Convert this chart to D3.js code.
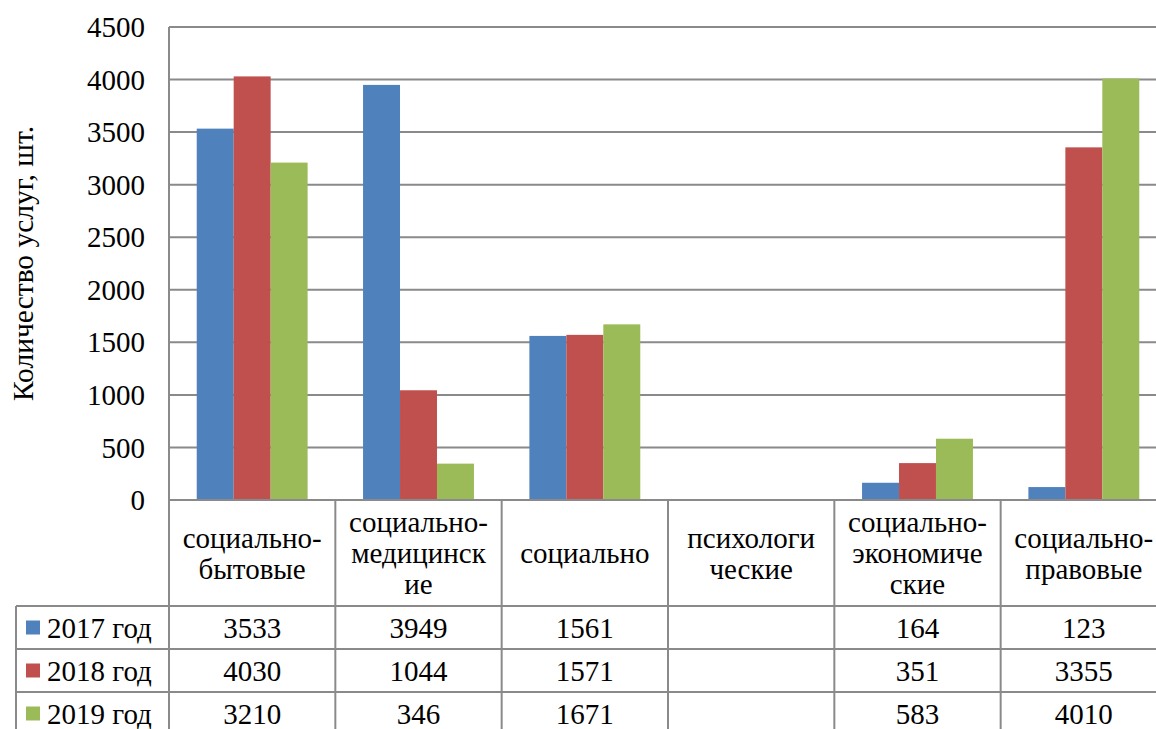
<!DOCTYPE html>
<html>
<head>
<meta charset="utf-8">
<script src="https://cdn.jsdelivr.net/npm/d3@7"></script>
<style>
  html, body { margin: 0; padding: 0; background: #fff; }
  svg { display: block; }
</style>
</head>
<body>
<svg id="chart" width="1156" height="729"></svg>
<script>
// ---- data ----
const categories = [
  ["социально-", "бытовые"],
  ["социально-", "медицинск", "ие"],
  ["социально"],
  ["психологи", "ческие"],
  ["социально-", "экономиче", "ские"],
  ["социально-", "правовые"]
];
const seriesNames = ["2017 год", "2018 год", "2019 год"];
const values2017 = [3533, 3949, 1561, null, 164, 123];
const values2018 = [4030, 1044, 1571, null, 351, 3355];
const values2019 = [3210, 346, 1671, null, 583, 4010];
const yTicks = [0, 500, 1000, 1500, 2000, 2500, 3000, 3500, 4000, 4500];
const yTitle = "Количество услуг, шт.";

const seriesValues = [values2017, values2018, values2019];
const colors = ["#4F81BD", "#C0504D", "#9BBB59"];

// ---- layout ----
const svg = d3.select("#chart");
const plotLeft = 169, plotRight = 1167, plotTop = 27, plotBottom = 500;
const headerBottom = 606, rowH = 43;
const legendLeft = 16;
const gridColor = "#8a8a8a";
const serif = "'Liberation Serif', 'Times New Roman', serif";
const fs = 29;

const x = d3.scaleBand().domain(d3.range(categories.length)).range([plotLeft, plotRight]).paddingInner(0).paddingOuter(0);
const xs = d3.scaleBand().domain(d3.range(seriesNames.length)).range([0, x.bandwidth()]).paddingInner(0).paddingOuter(0.75);
const y = d3.scaleLinear().domain([0, 4500]).range([plotBottom, plotTop]);

// gridlines
svg.append("g").selectAll("line").data(yTicks.filter(d => d > 0)).join("line")
  .attr("x1", plotLeft).attr("x2", plotRight)
  .attr("y1", d => y(d)).attr("y2", d => y(d))
  .attr("stroke", gridColor).attr("stroke-width", 2);

// bars
const groups = svg.append("g").selectAll("g").data(seriesValues).join("g")
  .attr("fill", (d, i) => colors[i]);
groups.each(function(vals, si) {
  d3.select(this).selectAll("rect").data(vals.map((v, ci) => ({v, ci})).filter(d => d.v != null)).join("rect")
    .attr("x", d => x(d.ci) + xs(si))
    .attr("width", xs.bandwidth())
    .attr("y", d => y(d.v))
    .attr("height", d => y(0) - y(d.v));
});

// y axis line
svg.append("line").attr("x1", plotLeft).attr("x2", plotLeft).attr("y1", plotTop).attr("y2", plotBottom)
  .attr("stroke", gridColor).attr("stroke-width", 2);

// y tick labels
svg.append("g").selectAll("text").data(yTicks).join("text")
  .attr("x", 145).attr("y", d => y(d)).attr("dy", "0.35em")
  .attr("text-anchor", "end")
  .attr("font-family", serif).attr("font-size", fs).attr("fill", "#000")
  .text(d => d);

// y title
svg.append("text")
  .attr("transform", `translate(33, ${(plotTop + plotBottom) / 2}) rotate(-90)`)
  .attr("text-anchor", "middle")
  .attr("font-family", serif).attr("font-size", 29.5).attr("fill", "#000")
  .text(yTitle);

// ---- data table ----
const tbl = svg.append("g").attr("stroke", gridColor).attr("stroke-width", 2);
const tableBottom = 760;
tbl.append("line").attr("x1", plotLeft).attr("x2", plotRight).attr("y1", plotBottom).attr("y2", plotBottom);
[0, 1, 2].forEach(i => {
  const yy = headerBottom + i * rowH;
  tbl.append("line").attr("x1", legendLeft).attr("x2", plotRight).attr("y1", yy).attr("y2", yy);
});
tbl.append("line").attr("x1", legendLeft).attr("x2", legendLeft).attr("y1", headerBottom).attr("y2", tableBottom);
d3.range(categories.length + 1).forEach(i => {
  const xx = i < categories.length ? x(i) : plotRight;
  tbl.append("line").attr("x1", xx).attr("x2", xx).attr("y1", plotBottom).attr("y2", tableBottom);
});

// header labels
const lineH = 31;
categories.forEach((lines, ci) => {
  const cx = x(ci) + x.bandwidth() / 2;
  const cy = (plotBottom + headerBottom) / 2;
  const t = svg.append("text").attr("text-anchor", "middle")
    .attr("font-family", serif).attr("font-size", fs).attr("fill", "#000");
  lines.forEach((ln, li) => {
    t.append("tspan").attr("x", cx)
      .attr("y", cy + (li - (lines.length - 1) / 2) * lineH)
      .attr("dy", "0.35em").text(ln);
  });
});

// rows
seriesNames.forEach((name, si) => {
  const cy = headerBottom + si * rowH + rowH / 2;
  svg.append("rect").attr("x", 26).attr("y", cy - 7).attr("width", 14).attr("height", 14).attr("fill", colors[si]);
  svg.append("text").attr("x", 47).attr("y", cy).attr("dy", "0.35em")
    .attr("font-family", serif).attr("font-size", fs).attr("fill", "#000").text(name);
  seriesValues[si].forEach((v, ci) => {
    if (v == null) return;
    svg.append("text").attr("x", x(ci) + x.bandwidth() / 2).attr("y", cy).attr("dy", "0.35em")
      .attr("text-anchor", "middle")
      .attr("font-family", serif).attr("font-size", fs).attr("fill", "#000").text(v);
  });
});
</script>
</body>
</html>
